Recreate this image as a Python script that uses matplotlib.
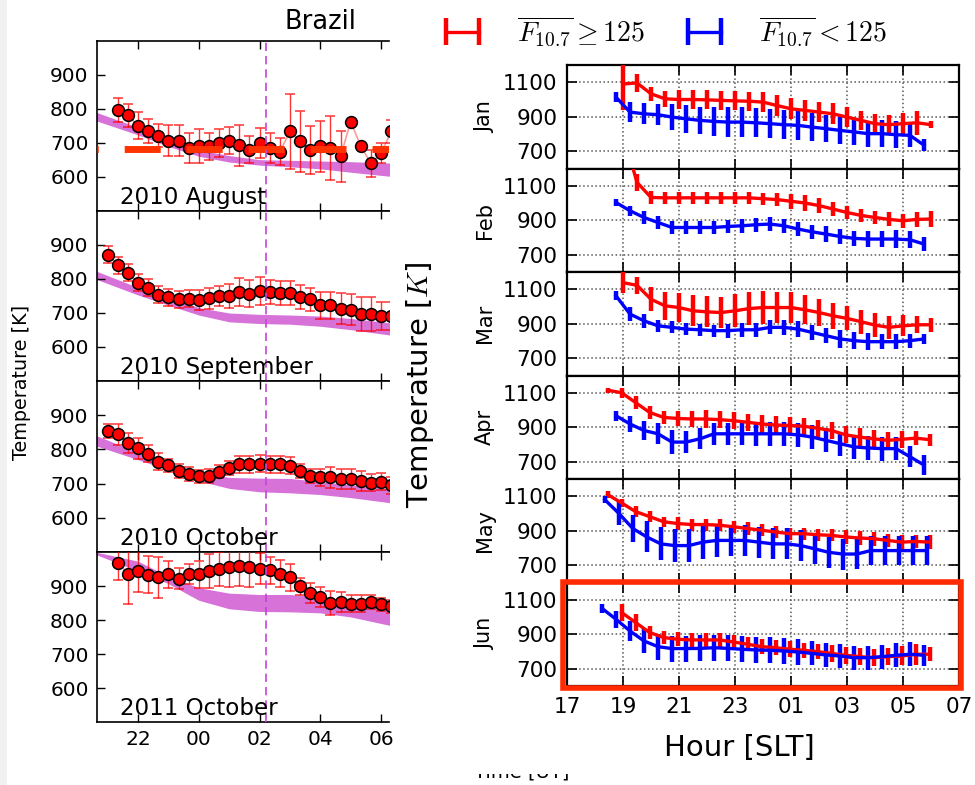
import numpy as np
import matplotlib
matplotlib.use("Agg")
import matplotlib.pyplot as plt
import matplotlib.patches as mpatches

plt.rcParams["font.family"] = ["DejaVu Sans"]
plt.rcParams["mathtext.fontset"] = "cm"

W, H = 975, 785

# ── left: Brazil night-time temperatures (UT, hours past midnight shown as 24+) ──
LEFT_LABELS = ["2010 August", "2010 September", "2010 October", "2011 October"]
LEFT_START = [21 + 1 / 3, 21.0, 21.0, 21 + 1 / 3]
LEFT_STEP = 1 / 3
LEFT_TEMP = [
    [797, 781, 751, 736, 722, 707, 707, 685, 690, 690, 700, 707, 693, 680,
     700, 685, 674, 734, 705, 680, 690, 685, 661, 763, 690, 640, 670, 734],
    [872, 841, 818, 789, 775, 754, 746, 740, 742, 738, 743, 750, 751, 762,
     757, 765, 762, 759, 760, 748, 740, 723, 723, 713, 710, 698, 698, 691, 691],
    [854, 844, 819, 803, 787, 764, 753, 736, 728, 721, 723, 735, 746, 756,
     756, 758, 756, 756, 752, 736, 723, 718, 718, 713, 713, 708, 703, 705, 695],
    [969, 936, 943, 933, 926, 934, 922, 936, 934, 944, 949, 956, 959, 956,
     951, 946, 936, 926, 900, 880, 868, 851, 853, 848, 848, 853, 846, 840],
]
LEFT_ERR = [
    [35, 35, 40, 35, 35, 45, 45, 45, 50, 40, 40, 40, 60, 40,
     45, 45, 40, 110, 90, 70, 75, 95, 75, 0, 0, 40, 30, 35],
    [25, 25, 25, 25, 25, 25, 25, 25, 25, 30, 30, 30, 35, 40,
     40, 40, 35, 35, 35, 35, 35, 40, 40, 45, 45, 50, 50, 40, 40],
    [20, 30, 30, 30, 25, 25, 20, 20, 20, 20, 20, 20, 20, 25,
     25, 25, 25, 25, 25, 20, 20, 25, 30, 30, 30, 30, 25, 25, 25],
    [50, 90, 60, 55, 60, 40, 30, 30, 40, 50, 50, 60, 60, 60,
     45, 40, 40, 40, 25, 30, 30, 35, 30, 25, 25, 20, 20, 20],
]
# model band (upper / lower envelope)
MODEL_H = [20.6, 22, 23, 24, 25, 26, 27, 28, 29, 30.3]
MODEL_TOP = [
    [791, 746, 715, 680, 663, 651, 649, 647, 645, 641],
    [824, 775, 746, 716, 700, 696, 694, 691, 684, 671],
    [841, 792, 762, 733, 718, 716, 715, 706, 696, 684],
    [1000, 973, 928, 895, 879, 875, 875, 868, 853, 836],
]
MODEL_BOT = [
    [766, 724, 690, 661, 644, 635, 630, 624, 614, 602],
    [800, 753, 723, 694, 674, 669, 667, 661, 651, 635],
    [811, 770, 740, 708, 686, 676, 673, 668, 659, 644],
    [993, 944, 907, 858, 833, 825, 824, 821, 809, 784],
]
AUG_LEVEL = 683
EVENT_HOUR = 26.2
LEFT_XTICKS = [22, 24, 26, 28, 30]
LEFT_YTICKS = [600, 700, 800, 900]

# ── right: monthly mean temperature vs SLT ──
MONTHS = ["Jan", "Feb", "Mar", "Apr", "May", "Jun"]
HI_START = [19.0, 19.0, 19.0, 18.45, 18.45, 18.95]
LO_START = [18.75, 18.75, 18.75, 18.75, 18.35, 18.25]
HI_TEMP = [
    [1090, 1096, 1033, 1004, 1000, 1000, 998, 995, 992, 990, 985, 965, 946,
     937, 927, 917, 898, 879, 860, 854, 860, 865, 854],
    [1400, 1120, 1032, 1030, 1030, 1030, 1030, 1030, 1030, 1030, 1025, 1020,
     1010, 1000, 985, 965, 945, 928, 916, 905, 897, 905, 907],
    [1138, 1123, 1042, 1004, 994, 975, 969, 965, 975, 988, 994, 994, 994,
     981, 965, 946, 931, 912, 892, 879, 888, 894, 894],
    [1115, 1100, 1043, 986, 957, 951, 948, 948, 944, 938, 929, 919, 913,
     910, 906, 894, 881, 856, 843, 833, 824, 830, 837, 828],
    [1110, 1061, 1011, 982, 952, 942, 936, 936, 932, 923, 913, 903, 893,
     883, 883, 877, 873, 864, 858, 854, 844, 834, 838, 834],
    [1026, 968, 910, 881, 871, 867, 867, 867, 855, 842, 828, 822, 813,
     807, 799, 789, 778, 770, 764, 770, 774, 784, 784],
]
HI_ERR = [
    [150, 50, 40, 45, 55, 55, 55, 55, 55, 55, 60, 60, 60, 60, 60, 60, 60,
     55, 55, 55, 60, 70, 20],
    [100, 50, 35, 35, 35, 35, 35, 35, 35, 35, 35, 40, 45, 45, 45, 40, 40,
     40, 40, 40, 40, 45, 45],
    [60, 50, 70, 80, 85, 90, 90, 90, 95, 95, 95, 90, 90, 85, 80, 75, 70,
     70, 70, 65, 60, 50, 40],
    [15, 30, 40, 40, 40, 45, 45, 50, 50, 50, 50, 50, 50, 50, 50, 50, 50,
     50, 50, 50, 50, 50, 40, 35],
    [20, 25, 30, 30, 30, 35, 35, 35, 35, 35, 35, 35, 35, 35, 35, 35, 35,
     40, 40, 40, 40, 40, 40, 40],
    [50, 50, 40, 40, 40, 40, 40, 40, 40, 40, 45, 45, 45, 45, 45, 50, 50,
     50, 50, 50, 55, 60, 40],
]
LO_TEMP = [
    [1013, 927, 917, 912, 898, 888, 879, 873, 869, 869, 865, 860, 854, 850,
     840, 831, 821, 812, 802, 802, 796, 792, 735],
    [1003, 955, 916, 887, 858, 858, 858, 858, 864, 868, 874, 878, 868, 849,
     833, 820, 806, 795, 791, 791, 791, 787, 762],
    [1062, 956, 917, 888, 879, 869, 865, 860, 860, 865, 865, 879, 879, 869,
     850, 831, 812, 802, 796, 796, 796, 802, 812],
    [967, 919, 881, 862, 814, 814, 833, 862, 862, 862, 862, 862, 862, 856,
     843, 824, 805, 786, 780, 776, 776, 729, 681],
    [1080, 1001, 913, 864, 824, 814, 814, 834, 844, 844, 844, 834, 824, 824,
     814, 795, 775, 765, 765, 785, 785, 785, 785, 785],
    [1050, 987, 919, 861, 828, 817, 817, 818, 822, 818, 813, 809, 807, 803,
     797, 789, 780, 774, 764, 764, 770, 778, 784, 778],
]
LO_ERR = [
    [30, 60, 60, 60, 75, 80, 80, 85, 85, 85, 85, 85, 85, 85, 80, 80, 80,
     75, 75, 80, 80, 70, 35],
    [20, 30, 35, 35, 35, 35, 35, 35, 40, 40, 40, 40, 40, 40, 40, 45, 45,
     45, 45, 45, 50, 50, 40],
    [25, 40, 40, 35, 35, 35, 35, 35, 40, 40, 40, 40, 45, 45, 45, 45, 50,
     50, 50, 45, 45, 40, 30],
    [30, 45, 55, 60, 70, 65, 60, 65, 65, 65, 70, 70, 70, 70, 70, 70, 70,
     70, 70, 70, 65, 60, 60],
    [20, 70, 80, 90, 95, 95, 95, 95, 95, 90, 90, 90, 90, 90, 90, 90, 90,
     90, 85, 85, 85, 85, 85, 85],
    [25, 50, 60, 70, 75, 75, 75, 75, 75, 75, 75, 75, 75, 75, 75, 70, 70,
     70, 70, 70, 70, 70, 70, 60],
]
RIGHT_XTICKS = list(range(17, 32, 2))
RIGHT_YTICKS = [700, 900, 1100]
STEP = 0.5


def fx(px):
    return px / W


def fy(py):
    return 1 - py / H


fig = plt.figure(figsize=(W / 100, H / 100), dpi=100)
fig.patches.append(mpatches.Rectangle((0, 0), fx(7), 1, transform=fig.transFigure,
                                      facecolor="#f1f1f1", edgecolor="none"))

# left column
left_rows = [(41, 211), (211, 381), (381, 552), (552, 722)]
for i, (top, bot) in enumerate(left_rows):
    ax = fig.add_axes([fx(97), fy(bot), fx(389) - fx(97), (bot - top) / H])
    hrs = LEFT_START[i] + LEFT_STEP * np.arange(len(LEFT_TEMP[i]))
    ax.fill_between(MODEL_H, MODEL_BOT[i], MODEL_TOP[i], color="#d672d8", lw=0, zorder=1)
    ax.plot(hrs, LEFT_TEMP[i], color="#ff9a9a", lw=1.2, zorder=2)
    ax.errorbar(hrs, LEFT_TEMP[i], yerr=LEFT_ERR[i], fmt="o", color="red",
                mfc="red", mec="black", mew=1.1, ms=8.5, ecolor=(1, 0, 0, 0.8),
                elinewidth=1.0, capsize=3.5, capthick=1.0, zorder=3)
    if i == 0:
        ax.axhline(AUG_LEVEL, color="#ff3300", lw=5, dash_capstyle="butt",
                   linestyle=(5.0, (5.18, 3.74)), zorder=4)
    ax.axvline(EVENT_HOUR, color="#c444d8", lw=1.2, dashes=(5, 3), zorder=5)
    ax.set_xlim(20.65, 30.26)
    ax.set_ylim(500, 1000)
    ax.set_xticks(LEFT_XTICKS)
    ax.set_yticks(LEFT_YTICKS)
    ax.set_xticklabels(["%02d" % (t % 24) for t in LEFT_XTICKS] if i == 3 else [])
    ax.tick_params(direction="in", length=6, width=1, labelsize=14.5,
                   top=True, right=False, pad=6)
    ax.spines["right"].set_visible(False)
    for s in ("left", "top", "bottom"):
        ax.spines[s].set_linewidth(1.2)
    ax.text((120 - 97) / 292, 7 / 170, LEFT_LABELS[i], transform=ax.transAxes,
            fontsize=16.6, ha="left", va="baseline", zorder=6)

fig.text(fx(320), fy(22), "Brazil", fontsize=18.5, ha="center", va="center")
fig.text(fx(22), fy(382), "Temperature [K]", fontsize=13.8, rotation=90,
         ha="center", va="center")
fig.text(fx(522), fy(772), "Time [UT]", fontsize=14, ha="center", va="center")
fig.patches.append(mpatches.Rectangle((fx(455), fy(774)), fx(140), 14 / H,
                                      transform=fig.transFigure, facecolor="white",
                                      edgecolor="none", zorder=10))

# right column
r_top, r_bot = 65, 686
r_h = (r_bot - r_top) / 6
handles = []
for i, month in enumerate(MONTHS):
    top = r_top + i * r_h
    ax = fig.add_axes([fx(567), fy(top + r_h), fx(959) - fx(567), r_h / H])
    h_hi = HI_START[i] + STEP * np.arange(len(HI_TEMP[i]))
    h_lo = LO_START[i] + STEP * np.arange(len(LO_TEMP[i]))
    c_hi = ax.errorbar(h_hi, HI_TEMP[i], yerr=HI_ERR[i], color="red", lw=2.4,
                       elinewidth=3.2, capsize=0, zorder=3)
    c_lo = ax.errorbar(h_lo, LO_TEMP[i], yerr=LO_ERR[i], color="blue", lw=2.4,
                       elinewidth=3.2, capsize=0, zorder=3)
    if i == 0:
        handles = [c_hi, c_lo]
    ax.set_xlim(17, 31)
    ax.set_ylim(600, 1200)
    ax.set_xticks(RIGHT_XTICKS)
    ax.set_yticks(RIGHT_YTICKS)
    ax.grid(True, color="0.35", ls=":", lw=1.1)
    ax.set_axisbelow(True)
    ax.set_xticklabels(["%02d" % (t % 24) for t in RIGHT_XTICKS] if i == 5 else [])
    ax.tick_params(direction="in", length=7, width=1.2, labelsize=15.5,
                   top=True, right=True)
    ax.tick_params(axis="y", pad=7)
    ax.tick_params(axis="x", pad=8)
    for s in ax.spines.values():
        s.set_linewidth(1.6)
    ax.set_ylabel(month, fontsize=15)
    ax.yaxis.set_label_coords((495 - 567) / 392, 0.5)

fig.text(fx(420), fy(385), "Temperature [$K$]", fontsize=21, rotation=90,
         ha="center", va="center")
fig.text(fx(739), fy(748), "Hour [SLT]", fontsize=21, ha="center", va="center")

fig.legend(handles, [r"$\overline{F_{10.7}}\geq 125$", r"$\overline{F_{10.7}}<125$"],
           loc="center", bbox_to_anchor=(fx(662), fy(31)), ncol=2, frameon=False,
           numpoints=2, fontsize=20, handlelength=1.8, handletextpad=1.05,
           columnspacing=1.25)

fig.patches.append(mpatches.Rectangle((fx(563), fy(688)), fx(961) - fx(563), 106 / H,
                                      transform=fig.transFigure, facecolor="none",
                                      edgecolor="#ff2a00", lw=4, zorder=20))

fig.savefig("out.png", dpi=100)
